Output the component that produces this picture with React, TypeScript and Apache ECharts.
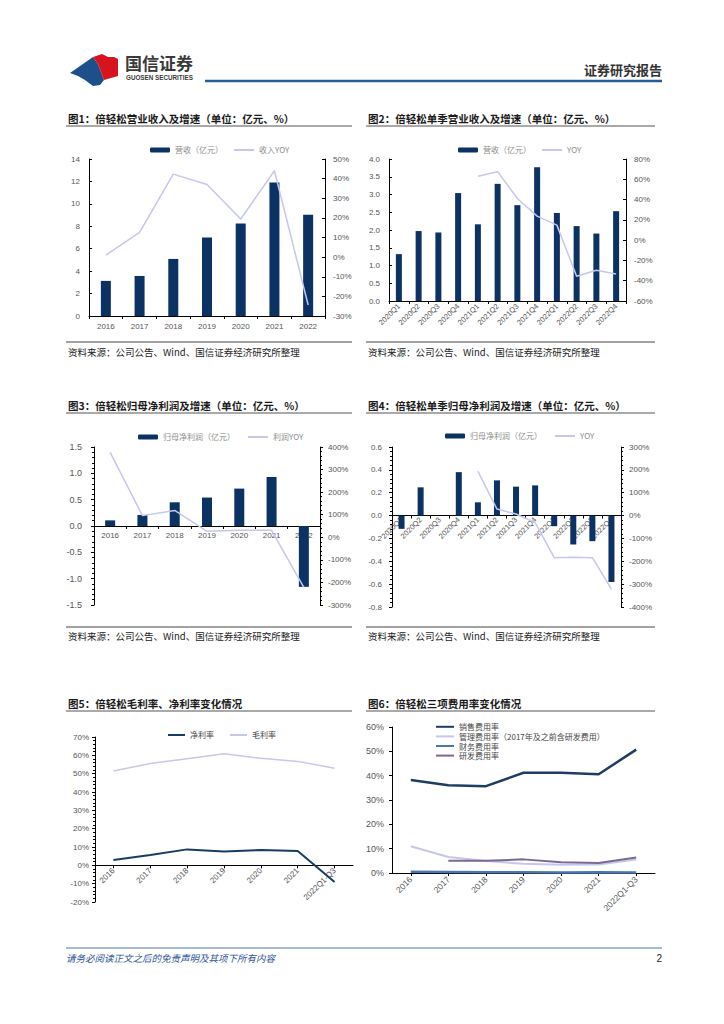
import React, { useEffect, useRef } from 'react';
import * as echarts from 'echarts';

// ---------- data ----------
const years = ['2016', '2017', '2018', '2019', '2020', '2021', '2022'];
const revenue = [3.13, 3.57, 5.09, 7.0, 8.25, 11.9, 9.03];
const revenueYoy = [1.0, 12.6, 42.3, 37.0, 19.4, 44.0, -24.4];

const quarters = ['2020Q1', '2020Q2', '2020Q3', '2020Q4', '2021Q1', '2021Q2', '2021Q3', '2021Q4', '2022Q1', '2022Q2', '2022Q3', '2022Q4'];
const qRevenue = [1.32, 1.97, 1.93, 3.04, 2.16, 3.3, 2.7, 3.77, 2.48, 2.11, 1.9, 2.53];
const qRevenueYoy = [null, null, null, null, 62.9, 67.5, 41.0, 23.7, 14.8, -35.6, -29.7, -33.3];

const netProfit = [0.107, 0.21, 0.45, 0.54, 0.71, 0.93, -1.155];
const netProfitYoy = [376, 96, 119, 26.5, 31, 31, -222];

const qNetProfit = [-0.116, 0.247, 0.0, 0.38, 0.116, 0.308, 0.253, 0.264, -0.093, -0.253, -0.224, -0.581];
const qNetProfitYoy = [null, null, null, null, 194, 28.5, 6.7, -31, -184, -182, -184, -322];

const marginCats = ['2016', '2017', '2018', '2019', '2020', '2021', '2022Q1-Q3'];
const netMargin = [2.9, 5.6, 8.7, 7.6, 8.4, 7.8, -9.1];
const grossMargin = [51.5, 55.6, 58.2, 60.9, 58.4, 56.7, 52.9];

const sellingRate = [38.2, 36.1, 35.7, 41.2, 41.2, 40.6, 50.7];
const adminRate = [11.0, 6.6, 4.9, 3.8, 3.4, 3.5, 5.5];
const financeRate = [0.5, 0.4, 0.3, 0.3, 0.2, 0.3, 0.2];
const rdRate = [null, 5.0, 5.0, 5.6, 4.4, 4.1, 6.4];

const titles = [
  '图1：倍轻松营业收入及增速（单位：亿元、%）',
  '图2：倍轻松单季营业收入及增速（单位：亿元、%）',
  '图3：倍轻松归母净利润及增速（单位：亿元、%）',
  '图4：倍轻松单季归母净利润及增速（单位：亿元、%）',
  '图5：倍轻松毛利率、净利率变化情况',
  '图6：倍轻松三项费用率变化情况',
];
const sourceText = '资料来源：公司公告、Wind、国信证券经济研究所整理';
const footerText = '请务必阅读正文之后的免责声明及其项下所有内容';

// ---------- styles ----------
const NAVY = '#0b3262';
const LAV = '#c6c6ef';
const LBL = '#555555';
const NUM_FONT = '"Liberation Sans", Arial, sans-serif';
const CJK = '"Noto Sans CJK SC", sans-serif';

const grids = [
  { left: 89, top: 159, width: 236, height: 157 },
  { left: 389, top: 159, width: 237, height: 142 },
  { left: 94, top: 447, width: 226, height: 158 },
  { left: 392, top: 447, width: 229, height: 160 },
  { left: 95, top: 737, width: 258, height: 165 },
  { left: 392, top: 727, width: 263, height: 146 },
];

// offset that puts a bottom category axis on the zero line of a value range
function zeroOffset(gridIndex: number, min: number, max: number) {
  return -grids[gridIndex].height * ((0 - min) / (max - min));
}

function catAxis(gridIndex: number, data: string[], extra: any = {}) {
  return {
    type: 'category',
    gridIndex,
    data,
    boundaryGap: true,
    offset: extra.offset || 0,
    axisLine: { show: true, onZero: false, lineStyle: { color: '#000', width: 1 } },
    axisTick: { show: true, length: 3, alignWithLabel: !!extra.align, lineStyle: { color: '#000' } },
    axisLabel: {
      interval: 0,
      color: LBL,
      fontSize: extra.fontSize || 8,
      fontFamily: NUM_FONT,
      rotate: extra.rotate || 0,
      margin: extra.margin ?? 6,
    },
    splitLine: { show: false },
    z: 0,
  };
}

function valAxis(gridIndex: number, position: string, min: number, max: number, interval: number, formatter: any, extra: any = {}) {
  return {
    type: 'value',
    gridIndex,
    position,
    min,
    max,
    interval,
    axisLine: { show: true, onZero: false, lineStyle: { color: '#000', width: 1 } },
    axisTick: { show: true, inside: !!extra.inside, length: 3, lineStyle: { color: '#000' } },
    minorTick: extra.minor ? { show: true, splitNumber: 5, length: 2, lineStyle: { color: '#000' } } : { show: false },
    axisLabel: { color: LBL, fontSize: extra.fontSize || 8, fontFamily: NUM_FONT, formatter, margin: extra.margin ?? 7 },
    splitLine: { show: false },
    minorSplitLine: { show: false },
  };
}

const fix1 = (v: number) => v.toFixed(1);
const pct = '{value}%';

function barSeries(name: string, x: number, y: number, data: any[], w: number) {
  return { type: 'bar', name, xAxisIndex: x, yAxisIndex: y, data, barWidth: w, itemStyle: { color: NAVY } };
}
function lineSeries(name: string, x: number, y: number, data: any[], color: string, width: number) {
  return {
    type: 'line',
    name,
    xAxisIndex: x,
    yAxisIndex: y,
    data,
    symbol: 'none',
    showSymbol: false,
    connectNulls: false,
    lineStyle: { color, width },
    itemStyle: { color },
  };
}

// legend entry: bars keep their icon, lines show only the stroke (no dot)
const barItem = (name: string) => ({ name });
const lineItem = (name: string) => ({ name, itemStyle: { opacity: 0 } });

function legend(data: any[], left: number, top: number, gap: number, color: string, extra: any = {}) {
  return {
    data,
    left,
    top,
    orient: extra.orient || 'horizontal',
    itemWidth: extra.itemWidth || 20,
    itemHeight: 5,
    itemGap: gap,
    selectedMode: false,
    textStyle: { color, fontSize: 8, fontFamily: CJK, lineHeight: extra.lineHeight },
  };
}

function txt(text: string, x: number, y: number, o: any = {}) {
  return {
    type: 'text',
    x,
    y,
    style: {
      text,
      fill: o.fill || '#1a1a1a',
      fontSize: o.fontSize || 10,
      fontFamily: o.fontFamily || CJK,
      fontWeight: o.fontWeight || 'normal',
      fontStyle: o.fontStyle || 'normal',
      align: o.align || 'left',
      verticalAlign: 'middle',
    },
  };
}
function hline(x1: number, x2: number, y: number, stroke: string, lineWidth: number) {
  return { type: 'line', shape: { x1, y1: y, x2, y2: y }, style: { stroke, lineWidth } };
}

function buildOption() {
  const graphics: any[] = [];
  // header
  graphics.push({ type: 'polygon', shape: { points: [[70, 73], [93, 57], [98, 64], [101, 72], [104, 80], [100, 85], [93, 86], [85, 80], [78, 76]] }, style: { fill: '#1d4f8a' } });
  graphics.push({ type: 'polygon', shape: { points: [[93, 57], [102, 54], [108, 57], [114, 57], [118, 59], [118, 76], [111, 78], [104, 80], [101, 72], [98, 64]] }, style: { fill: '#d7141e' } });
  graphics.push(txt('国信证券', 125, 62, { fontSize: 17, fontWeight: 'bold', fill: '#3a3a3a' }));
  graphics.push(txt('GUOSEN SECURITIES', 126, 77, { fontSize: 6.3, fontWeight: 'bold', fill: '#3a3a3a', fontFamily: '"Liberation Sans", Arial, sans-serif' }));
  graphics.push(txt('证券研究报告', 662, 69, { fontSize: 13, fontWeight: 'bold', fill: '#333', align: 'right' }));
  graphics.push(hline(205, 662, 81, '#2a5d94', 2.5));

  // titles & underlines
  const cols = [[66, 352, 68], [366, 655, 368]];
  const rows = [[118, 126], [405, 413], [703, 711]];
  titles.forEach((t, i) => {
    const c = cols[i % 2];
    const r = rows[Math.floor(i / 2)];
    graphics.push(txt(t, c[2], r[0], { fontSize: 10.5, fontWeight: 'bold', fill: '#1a1a1a' }));
    graphics.push(hline(c[0], c[1], r[1], '#555', 1));
  });
  // sources
  [[342, 352], [627, 636]].forEach((r) => {
    cols.forEach((c) => {
      graphics.push(hline(c[0], c[1], r[0], '#444', 1));
      graphics.push(txt(sourceText, c[2], r[1], { fontSize: 9.5, fill: '#222' }));
    });
  });
  // footer
  graphics.push(hline(66, 662, 948, '#4a78a8', 1));
  graphics.push(txt(footerText, 66, 958, { fontSize: 9.5, fontStyle: 'italic', fill: '#2f5597' }));
  graphics.push(txt('2', 662, 958, { fontSize: 10, fill: '#222', align: 'right', fontFamily: NUM_FONT }));

  return {
    animation: false,
    backgroundColor: '#ffffff',
    grid: grids,
    xAxis: [
      catAxis(0, years, { margin: 6 }),
      catAxis(1, quarters, { rotate: 45, fontSize: 7.5, margin: 4 }),
      catAxis(2, years, { margin: 5, offset: zeroOffset(2, -1.5, 1.5) }),
      catAxis(3, quarters, { rotate: 45, fontSize: 7.5, margin: 3, offset: zeroOffset(3, -0.8, 0.6) }),
      catAxis(4, marginCats, { rotate: 45, fontSize: 8, margin: 4, align: true, offset: zeroOffset(4, -20, 70) }),
      catAxis(5, marginCats, { rotate: 45, fontSize: 8.5, margin: 5, align: true }),
    ],
    yAxis: [
      valAxis(0, 'left', 0, 14, 2, null, { inside: true, margin: 9 }),
      valAxis(0, 'right', -30, 50, 10, pct, { inside: true, margin: 8 }),
      valAxis(1, 'left', 0, 4, 0.5, fix1, { inside: true, margin: 9 }),
      valAxis(1, 'right', -60, 80, 20, pct, { inside: true, margin: 8 }),
      valAxis(2, 'left', -1.5, 1.5, 0.5, fix1, { minor: true, fontSize: 9, margin: 12 }),
      valAxis(2, 'right', -300, 400, 100, pct, { minor: true, margin: 8 }),
      valAxis(3, 'left', -0.8, 0.6, 0.2, fix1, { minor: true, margin: 10 }),
      valAxis(3, 'right', -400, 300, 100, pct, { minor: true, margin: 8 }),
      valAxis(4, 'left', -20, 70, 10, pct, { minor: true, margin: 6 }),
      valAxis(5, 'left', 0, 60, 10, pct, { fontSize: 9, margin: 8 }),
    ],
    legend: [
      legend([barItem('营收（亿元）'), lineItem('收入YOY')], 145, 141, 10, '#8c8c8c'),
      legend([barItem('营收（亿元）'), lineItem('YOY')], 453, 141, 10, '#8c8c8c'),
      legend([barItem('归母净利润（亿元）'), lineItem('利润YOY')], 133, 428, 12, '#8c8c8c'),
      legend([barItem('归母净利润（亿元）'), lineItem('YOY')], 440, 427, 12, '#8c8c8c'),
      legend([lineItem('净利率'), lineItem('毛利率')], 162, 726, 15, '#444', { itemWidth: 17 }),
      legend(
        [lineItem('销售费用率'), lineItem('管理费用率（2017年及之前含研发费用）'), lineItem('财务费用率'), lineItem('研发费用率')],
        430, 717, 0, '#444', { orient: 'vertical', itemWidth: 18, lineHeight: 9.6 }
      ),
    ],
    series: [
      barSeries('营收（亿元）', 0, 0, revenue, 10),
      lineSeries('收入YOY', 0, 1, revenueYoy, LAV, 1.5),
      barSeries('营收（亿元）', 1, 2, qRevenue, 6),
      lineSeries('YOY', 1, 3, qRevenueYoy, LAV, 1.5),
      barSeries('归母净利润（亿元）', 2, 4, netProfit, 10),
      lineSeries('利润YOY', 2, 5, netProfitYoy, LAV, 1.5),
      barSeries('归母净利润（亿元）', 3, 6, qNetProfit, 6),
      lineSeries('YOY', 3, 7, qNetProfitYoy, LAV, 1.5),
      lineSeries('净利率', 4, 8, netMargin, '#173d66', 2),
      lineSeries('毛利率', 4, 8, grossMargin, LAV, 1.5),
      lineSeries('销售费用率', 5, 9, sellingRate, '#1f3d64', 2.5),
      lineSeries('管理费用率（2017年及之前含研发费用）', 5, 9, adminRate, LAV, 2),
      lineSeries('财务费用率', 5, 9, financeRate, '#4a77b4', 2.5),
      lineSeries('研发费用率', 5, 9, rdRate, '#7b6893', 2),
    ],
    graphic: graphics,
  };
}

export default function App() {
  const ref = useRef<HTMLDivElement>(null);
  useEffect(() => {
    if (!ref.current) return;
    const chart = echarts.init(ref.current, null, { renderer: 'svg', width: 724, height: 1024 });
    chart.setOption(buildOption() as any);
    return () => chart.dispose();
  }, []);
  return (
    <div
      ref={ref}
      style={{ position: 'absolute', left: 0, top: 0, width: 724, height: 1024, background: '#ffffff' }}
    />
  );
}
